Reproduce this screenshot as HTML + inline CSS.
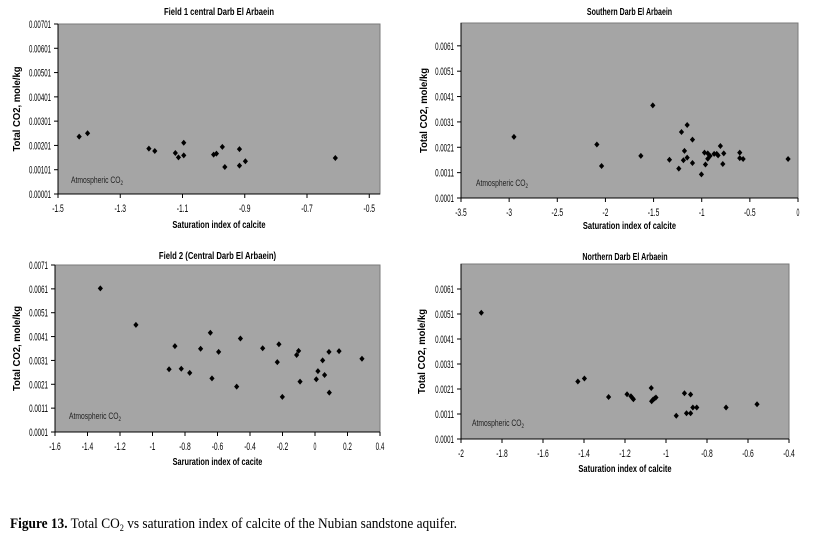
<!DOCTYPE html>
<html><head><meta charset="utf-8"><style>
body{margin:0;background:#fff;width:818px;height:538px;overflow:hidden}
svg{display:block;font-family:"Liberation Sans",Arial,sans-serif}
</style></head><body>
<svg id="fig" width="818" height="538">
<text x="10" y="528" font-family="Liberation Serif,serif" font-size="14.5" textLength="447" lengthAdjust="spacingAndGlyphs"><tspan font-weight="bold">Figure 13.</tspan> Total CO<tspan font-size="9" dy="3">2</tspan><tspan dy="-3"> vs saturation index of calcite of the Nubian sandstone aquifer.</tspan></text>
</svg>
<script>
const c1X=[-1.432,-1.405,-1.208,-1.189,-1.123,-1.113,-1.096,-1.096,-1.0,-0.991,-0.972,-0.964,-0.917,-0.917,-0.898,-0.609];
const c1Y=[0.00237,0.00251,0.00188,0.00178,0.00170,0.00152,0.00212,0.00160,0.00163,0.00167,0.00195,0.00112,0.00186,0.00118,0.00136,0.00149];
const c1XTicks=[-1.5,-1.3,-1.1,-0.9,-0.7,-0.5];
const c1XLabels=["-1.5","-1.3","-1.1","-0.9","-0.7","-0.5"];
const c1YTicks=[0.00001,0.00101,0.00201,0.00301,0.00401,0.00501,0.00601,0.00701];
const c1YLabels=["0.00001","0.00101","0.00201","0.00301","0.00401","0.00501","0.00601","0.00701"];

const c2X=[-2.95,-2.089,-2.04,-1.632,-1.508,-1.335,-1.238,-1.21,-1.19,-1.179,-1.151,-1.151,-1.096,-1.096,-1.003,-0.971,-0.961,-0.937,-0.937,-0.913,-0.871,-0.844,-0.830,-0.806,-0.781,-0.771,-0.605,-0.605,-0.570,-0.103];
const c2Y=[0.00251,0.00221,0.00136,0.00176,0.00375,0.00161,0.00126,0.00270,0.00159,0.00196,0.00298,0.00169,0.00240,0.00148,0.00103,0.00189,0.00142,0.00186,0.00165,0.00176,0.00184,0.00184,0.00178,0.00215,0.00144,0.00186,0.00189,0.00167,0.00164,0.00164];
const c2XTicks=[-3.5,-3,-2.5,-2,-1.5,-1,-0.5,0];
const c2XLabels=["-3.5","-3","-2.5","-2","-1.5","-1","-0.5","0"];
const c2YTicks=[0.0001,0.0011,0.0021,0.0031,0.0041,0.0051,0.0061];
const c2YLabels=["0.0001","0.0011","0.0021","0.0031","0.0041","0.0051","0.0061"];

const c3X=[-1.321,-1.102,-0.898,-0.862,-0.823,-0.771,-0.704,-0.644,-0.634,-0.593,-0.482,-0.459,-0.322,-0.232,-0.222,-0.201,-0.113,-0.101,-0.092,0.008,0.018,0.047,0.059,0.086,0.088,0.148,0.289];
const c3Y=[0.00612,0.00459,0.00273,0.00370,0.00275,0.00258,0.00359,0.00426,0.00235,0.00346,0.00200,0.00402,0.00361,0.00303,0.00378,0.00157,0.00333,0.00350,0.00221,0.00231,0.00265,0.00310,0.00249,0.00346,0.00175,0.00349,0.00317];
const c3XTicks=[-1.6,-1.4,-1.2,-1,-0.8,-0.6,-0.4,-0.2,0,0.2,0.4];
const c3XLabels=["-1.6","-1.4","-1.2","-1","-0.8","-0.6","-0.4","-0.2","0","0.2","0.4"];
const c3YTicks=[0.0001,0.0011,0.0021,0.0031,0.0041,0.0051,0.0061,0.0071];
const c3YLabels=["0.0001","0.0011","0.0021","0.0031","0.0041","0.0051","0.0061","0.0071"];

const c4X=[-1.901,-1.430,-1.398,-1.280,-1.190,-1.171,-1.164,-1.159,-1.072,-1.070,-1.064,-1.056,-1.049,-0.950,-0.910,-0.900,-0.880,-0.880,-0.869,-0.850,-0.707,-0.556];
const c4Y=[0.00515,0.00240,0.00252,0.00178,0.00189,0.00181,0.00174,0.00169,0.00214,0.00161,0.00167,0.00172,0.00176,0.00103,0.00193,0.00113,0.00188,0.00113,0.00136,0.00136,0.00136,0.00149];
const c4XTicks=[-2,-1.8,-1.6,-1.4,-1.2,-1,-0.8,-0.6,-0.4];
const c4XLabels=["-2","-1.8","-1.6","-1.4","-1.2","-1","-0.8","-0.6","-0.4"];
const c4YTicks=[0.0001,0.0011,0.0021,0.0031,0.0041,0.0051,0.0061];
const c4YLabels=["0.0001","0.0011","0.0021","0.0031","0.0041","0.0051","0.0061"];

const NS="http://www.w3.org/2000/svg";
const svg=document.getElementById('fig');
function mk(tag,attrs,parent){const e=document.createElementNS(NS,tag);for(const k in attrs)e.setAttribute(k,attrs[k]);(parent||svg).appendChild(e);return e;}
function fit(t,len){t.setAttribute('textLength',len);t.setAttribute('lengthAdjust','spacingAndGlyphs');}

function chart(o){
  const g=mk('g',{});
  
  
  const sx=v=>o.l+(v-o.x0)/(o.x1-o.x0)*(o.r-o.l);
  const sy=v=>o.b-(v-o.y0)/(o.y1-o.y0)*(o.b-o.t);
  const bg=mk('rect',{x:o.l,y:o.t,width:o.r-o.l,height:o.b-o.t,fill:'#a5a5a5',stroke:'#7a7a7a','stroke-width':1},g);
  
  
  mk('line',{x1:o.l,y1:o.t,x2:o.l,y2:o.b,stroke:'#000','stroke-width':1},g);
  mk('line',{x1:o.l,y1:o.b,x2:o.r,y2:o.b,stroke:'#000','stroke-width':1},g);
  o.xt.forEach((v,i)=>{
    const x=sx(v);
    mk('line',{x1:x,y1:o.b,x2:x,y2:o.b+4,stroke:'#000'},g);
    const t=mk('text',{x:x,y:o.b+18,'font-size':11,'text-anchor':'middle',fill:'#000'},g);
    t.textContent=o.xl[i];
    fit(t,o.xl[i].length*2.9);
    
    
  });
  o.yt.forEach((v,i)=>{
    const y=sy(v);
    mk('line',{x1:o.l-4,y1:y,x2:o.l,y2:y,stroke:'#000'},g);
    const t=mk('text',{x:o.l-7,y:y+4,'font-size':11,'text-anchor':'end',fill:'#000'},g);
    t.textContent=o.yl[i];
    fit(t,o.yl[i].length*3.15);
    
    
  });
  o.xs.forEach((v,i)=>{
    const x=sx(v),y=sy(o.ys[i]);
    const p=mk('path',{d:`M${x},${y-3}L${x+2.6},${y}L${x},${y+3}L${x-2.6},${y}Z`,fill:'#000'},g);
    
    
  });
  const ti=mk('text',{x:(o.l+o.r)/2,y:o.tt,'font-size':10.5,'font-weight':'bold','text-anchor':'middle'},g);
  ti.textContent=o.title;
  fit(ti,o.title.length*3.55);
  
  
  const xt=mk('text',{x:(o.l+o.r)/2,y:o.xty,'font-size':10.5,'font-weight':'bold','text-anchor':'middle'},g);
  xt.textContent=o.xtitle;
  fit(xt,o.xtitle.length*3.45);
  
  
  const yc=(o.t+o.b)/2;
  const yt=mk('text',{x:o.ytx,y:yc,'font-size':10.5,'font-weight':'bold','text-anchor':'middle',transform:`rotate(-90 ${o.ytx} ${yc})`},g);
  yt.textContent='Total CO2, mole/kg';
  fit(yt,85);
  
  
  const at=mk('text',{x:o.ax,y:o.ay,'font-size':9,fill:'#222'},g);
  at.innerHTML='Atmospheric CO<tspan font-size="6" dy="2">2</tspan>';
  fit(at,52);
  
  
}

chart({name:'chart-field-1',l:58,r:380,t:24,b:194,x0:-1.5,x1:-0.4655,y0:0.00001,y1:0.00701,xs:c1X,ys:c1Y,xt:c1XTicks,xl:c1XLabels,yt:c1YTicks,yl:c1YLabels,title:'Field 1 central Darb El Arbaein',tt:15,xtitle:'Saturation index of calcite',xty:228,ytx:20,ax:71,ay:183});
chart({name:'chart-southern',l:461,r:798,t:23,b:198,x0:-3.5,x1:0,y0:0.0001,y1:0.0070,xs:c2X,ys:c2Y,xt:c2XTicks,xl:c2XLabels,yt:c2YTicks,yl:c2YLabels,title:'Southern Darb El Arbaein',tt:15,xtitle:'Saturation index of calcite',xty:229,ytx:427,ax:476,ay:186});
chart({name:'chart-field-2',l:55,r:380,t:265,b:432,x0:-1.6,x1:0.4,y0:0.0001,y1:0.0071,xs:c3X,ys:c3Y,xt:c3XTicks,xl:c3XLabels,yt:c3YTicks,yl:c3YLabels,title:'Field 2 (Central Darb El Arbaein)',tt:259,xtitle:'Saruration index of cacite',xty:465,ytx:20,ax:69,ay:419});
chart({name:'chart-northern',l:461,r:789,t:264,b:439,x0:-2,x1:-0.4,y0:0.0001,y1:0.0071,xs:c4X,ys:c4Y,xt:c4XTicks,xl:c4XLabels,yt:c4YTicks,yl:c4YLabels,title:'Northern Darb El Arbaein',tt:260,xtitle:'Saturation index of calcite',xty:472,ytx:425,ax:472,ay:426});
</script>
</body></html>
